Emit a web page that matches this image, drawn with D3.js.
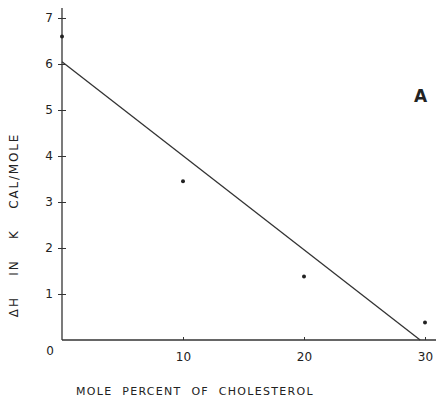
<!DOCTYPE html>
<html>
<head>
<meta charset="utf-8">
<script src="https://cdn.jsdelivr.net/npm/d3@7"></script>
<style>
  body { margin: 0; background: #fff; }
  text { font-family: "DejaVu Sans", sans-serif; fill: #222; }
</style>
</head>
<body>
<svg id="chart" width="436" height="404"></svg>
<script>
// data
var cholesterol = [0, 10, 20, 30];
var deltaH = [6.6, 3.45, 1.38, 0.38];
var fitX = [0, 29.6];
var fitY = [6.05, 0];
var xTicks = [10, 20, 30];
var yTicks = [1, 2, 3, 4, 5, 6, 7];

var svg = d3.select("#chart"),
    margin = {top: 8, right: 0, bottom: 64, left: 62},
    width = +svg.attr("width") - margin.left - margin.right,
    height = +svg.attr("height") - margin.top - margin.bottom,
    g = svg.append("g").attr("transform", "translate(" + margin.left + "," + margin.top + ")");

var x = d3.scaleLinear().domain([0, 30]).range([0, 363]);
var y = d3.scaleLinear().domain([0, 7]).range([height, height - 7 * 46]);

// x axis: plain line with small ticks
var xAxis = d3.axisBottom(x).tickValues(xTicks).tickSize(-3).tickPadding(12).tickFormat(d3.format("d"));
var gx = g.append("g").attr("transform", "translate(0," + height + ")").call(xAxis);
gx.select(".domain").attr("d", "M0,0H" + width).attr("stroke", "#333").attr("stroke-width", 1.6);
gx.selectAll(".tick line").attr("stroke", "#333");
gx.selectAll(".tick text").style("font-size", "12px");

// y axis: ticks cross the line
var yAxis = d3.axisLeft(y).tickValues(yTicks).tickSize(4).tickPadding(5).tickFormat(d3.format("d"));
var gy = g.append("g").call(yAxis);
gy.select(".domain").attr("d", "M0," + height + "V0").attr("stroke", "#333").attr("stroke-width", 1.3);
gy.selectAll(".tick line").attr("x2", 4).attr("x1", -4).attr("stroke", "#333");
gy.selectAll(".tick text").style("font-size", "12px");

// zero label at the corner
g.append("text")
  .attr("x", -12).attr("y", height + 15)
  .attr("text-anchor", "middle")
  .style("font-size", "12px")
  .text("0");

// fitted line
var line = d3.line()
    .x(function(d){ return x(d[0]); })
    .y(function(d){ return y(d[1]); });

g.append("path")
  .datum(d3.zip(fitX, fitY))
  .attr("fill", "none")
  .attr("stroke", "#333")
  .attr("stroke-width", 1.3)
  .attr("d", line);

// measured points
g.selectAll("circle")
  .data(d3.zip(cholesterol, deltaH))
  .enter().append("circle")
  .attr("cx", function(d){ return x(d[0]); })
  .attr("cy", function(d){ return y(d[1]); })
  .attr("r", 2)
  .attr("fill", "#222");

// axis titles
svg.append("text")
  .attr("x", 76).attr("y", 395)
  .style("font-size", "11px")
  .style("letter-spacing", "1.3px")
  .style("word-spacing", "5px")
  .text("MOLE PERCENT OF CHOLESTEROL");

svg.append("text")
  .attr("transform", "translate(18,225) rotate(-90)")
  .attr("text-anchor", "middle")
  .style("font-size", "12px")
  .style("letter-spacing", "1.8px")
  .style("word-spacing", "15px")
  .text("ΔH IN K CAL/MOLE");

// panel letter
svg.append("text")
  .attr("x", 414).attr("y", 102)
  .style("font-size", "17px")
  .style("font-weight", "bold")
  .text("A");
</script>
</body>
</html>
